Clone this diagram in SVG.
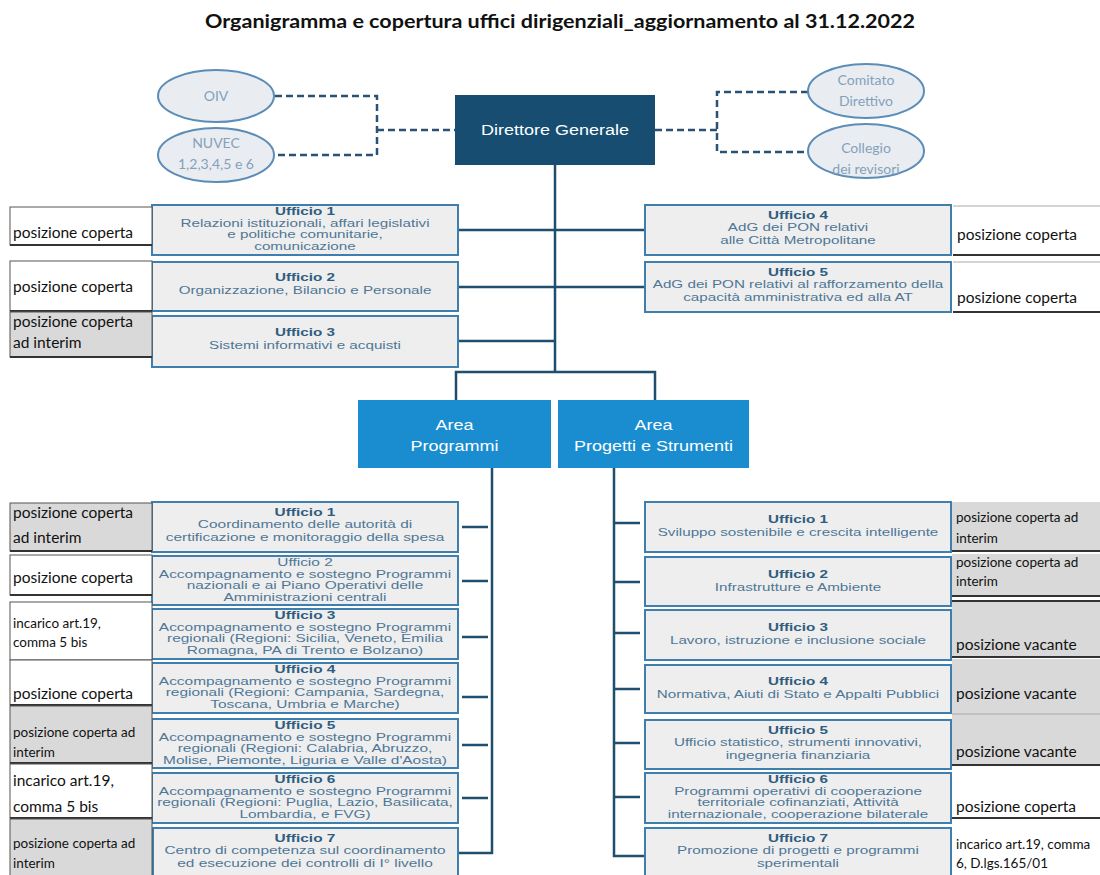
<svg xmlns="http://www.w3.org/2000/svg" width="1100" height="875" viewBox="0 0 1100 875">
<style>
.title{font-family:Lato,"Liberation Sans",sans-serif;font-weight:bold;font-size:18px;fill:#111}
.ell{fill:#e9edf1;stroke:#5b8db8;stroke-width:2}
.et{font-family:Lato,"Liberation Sans",sans-serif;font-size:14px;fill:#84a1bc;text-anchor:middle}
.dg{fill:#164d70}
.area{fill:#1a8dd0}
.wt{font-family:"Liberation Sans",Arial,sans-serif;font-size:15px;fill:#ffffff;text-anchor:middle}
.ub{fill:#eeeeee;stroke:#3f7fae;stroke-width:2}
.ut{font-family:"Liberation Sans",Arial,sans-serif;font-size:10.5px;fill:#4f7796;text-anchor:middle}
.uh{font-weight:bold;fill:#2f5d80}
.lb{stroke:#555;stroke-width:1}
.white{fill:#ffffff}
.grey{fill:#d9d9d9}
.bl{stroke:#333;stroke-width:2}
.tl{stroke:#aaa;stroke-width:1}
.lt{font-family:Lato,"Liberation Sans",sans-serif;font-size:15.5px;fill:#111}
.ls{font-size:13.5px}
.con{stroke:#1f4e6e;stroke-width:2.5;fill:none}
.dash{stroke:#2a5275;stroke-width:2.5;fill:none;stroke-dasharray:7,4}
</style>
<rect width="1100" height="875" fill="#ffffff"/>
<text class="title" x="560" y="28" text-anchor="middle" textLength="710" lengthAdjust="spacingAndGlyphs">Organigramma e copertura uffici dirigenziali_aggiornamento al 31.12.2022</text>

<g id="connectors">
<path class="dash" d="M275,96 H377 V155 H275 M377,130 H455"/>
<path class="dash" d="M808,92 H717 V152 H808 M717,130 H655"/>
<path class="con" d="M555,165 V372 M458,230 H555 M458,287 H555 M458,341 H555 M555,230 H645 M555,287 H645"/>
<path class="con" d="M456,400 V372 H655 V400"/>
<path class="con" d="M492,468 V853 H458"/>
<path class="con" d="M462,527 H488 M462,581 H488 M462,637 H488 M462,697 H488 M462,745 H488 M462,798 H488"/>
<path class="con" d="M614,468 V856 H645"/>
<path class="con" d="M614,523 H640 M614,582 H640 M614,633 H640 M614,689 H640 M614,743 H640 M614,797 H640"/>
</g>

<g id="oiv"><ellipse class="ell" cx="216" cy="96" rx="58" ry="26"/><text class="et" x="216" y="101">OIV</text></g>
<g id="nuvec"><ellipse class="ell" cx="216" cy="155" rx="58" ry="27"/><text class="et" x="216" y="148">NUVEC</text><text class="et" x="216" y="169">1,2,3,4,5 e 6</text></g>
<g id="comitato"><ellipse class="ell" cx="866" cy="91" rx="58" ry="27"/><text class="et" x="866" y="85">Comitato</text><text class="et" x="866" y="106">Direttivo</text></g>
<g id="collegio"><ellipse class="ell" cx="866" cy="151" rx="58" ry="27"/><text class="et" x="866" y="153">Collegio</text><text class="et" x="866" y="174">dei revisori</text></g>

<g id="dg"><rect class="dg" x="455" y="95" width="200" height="70"/><g transform="translate(555,0) scale(1.2,1)"><text class="wt" x="0" y="135">Direttore  Generale</text></g></g>

<g id="area-programmi"><rect class="area" x="358" y="400" width="193" height="68"/><g transform="translate(454.5,0) scale(1.2,1)"><text class="wt" x="0" y="430">Area</text><text class="wt" x="0" y="451">Programmi</text></g></g>
<g id="area-progetti"><rect class="area" x="558" y="400" width="191" height="68"/><g transform="translate(653.5,0) scale(1.2,1)"><text class="wt" x="0" y="430">Area</text><text class="wt" x="0" y="451">Progetti e Strumenti</text></g></g>

<!-- top left uffici -->
<g id="u1-top"><rect class="ub" x="152" y="205" width="306" height="50"/><g transform="translate(305,0) scale(1.45,1)"><text class="ut uh" x="0" y="215">Ufficio 1</text><text class="ut" x="0" y="226.7">Relazioni istituzionali, affari legislativi</text><text class="ut" x="0" y="238.4">e politiche comunitarie,</text><text class="ut" x="0" y="250.1">comunicazione</text></g></g>
<g id="u2-top"><rect class="ub" x="152" y="262" width="306" height="49"/><g transform="translate(305,0) scale(1.45,1)"><text class="ut uh" x="0" y="281">Ufficio 2</text><text class="ut" x="0" y="294">Organizzazione, Bilancio e Personale</text></g></g>
<g id="u3-top"><rect class="ub" x="152" y="316" width="306" height="51"/><g transform="translate(305,0) scale(1.45,1)"><text class="ut uh" x="0" y="336">Ufficio 3</text><text class="ut" x="0" y="349">Sistemi informativi e acquisti</text></g></g>

<!-- top right uffici -->
<g id="u4-top"><rect class="ub" x="645" y="205" width="306" height="50"/><g transform="translate(798,0) scale(1.45,1)"><text class="ut uh" x="0" y="219">Ufficio 4</text><text class="ut" x="0" y="231.5">AdG dei PON relativi</text><text class="ut" x="0" y="244">alle Città Metropolitane</text></g></g>
<g id="u5-top"><rect class="ub" x="645" y="262" width="306" height="50"/><g transform="translate(798,0) scale(1.45,1)"><text class="ut uh" x="0" y="276">Ufficio 5</text><text class="ut" x="0" y="288.5">AdG dei PON relativi al rafforzamento della</text><text class="ut" x="0" y="301">capacità amministrativa ed alla AT</text></g></g>

<!-- top labels -->
<g id="lab-u1-top"><rect class="lb white" x="10" y="207" width="142" height="38"/><line class="bl" x1="10" y1="245" x2="152" y2="245"/><text class="lt" x="13" y="238">posizione coperta</text></g>
<g id="lab-u2-top"><rect class="lb white" x="10" y="261" width="142" height="50"/><line class="bl" x1="10" y1="311" x2="152" y2="311"/><text class="lt" x="13" y="292">posizione coperta</text></g>
<g id="lab-u3-top"><rect class="lb grey" x="10" y="312" width="142" height="45"/><line class="bl" x1="10" y1="357" x2="152" y2="357"/><text class="lt" x="13" y="327">posizione coperta</text><text class="lt" x="13" y="348">ad interim</text></g>
<g id="lab-u4-top"><line class="tl" x1="953" y1="206" x2="1100" y2="206"/><line class="bl" x1="953" y1="255" x2="1100" y2="255"/><text class="lt" x="957" y="240">posizione coperta</text></g>
<g id="lab-u5-top"><line class="tl" x1="953" y1="262" x2="1100" y2="262"/><line class="bl" x1="953" y1="312" x2="1100" y2="312"/><text class="lt" x="957" y="303">posizione coperta</text></g>

<!-- Area Programmi uffici -->
<g id="ap-u1"><rect class="ub" x="152" y="502" width="306" height="50"/><g transform="translate(305,0) scale(1.47,1)"><text class="ut uh" x="0" y="516">Ufficio  1</text><text class="ut" x="0" y="528.5">Coordinamento  delle autorità di</text><text class="ut" x="0" y="541">certificazione e monitoraggio della spesa</text></g></g>
<g id="ap-u2"><rect class="ub" x="152" y="556" width="306" height="49"/><g transform="translate(305,0) scale(1.47,1)"><text class="ut" x="0" y="566">Ufficio  2</text><text class="ut" x="0" y="577.7">Accompagnamento e sostegno Programmi</text><text class="ut" x="0" y="589.4">nazionali e ai Piano Operativi  delle</text><text class="ut" x="0" y="601.1">Amministrazioni centrali</text></g></g>
<g id="ap-u3"><rect class="ub" x="152" y="609" width="306" height="50"/><g transform="translate(305,0) scale(1.47,1)"><text class="ut uh" x="0" y="619">Ufficio  3</text><text class="ut" x="0" y="630.7">Accompagnamento e sostegno Programmi</text><text class="ut" x="0" y="642.4">regionali (Regioni: Sicilia, Veneto, Emilia</text><text class="ut" x="0" y="654.1">Romagna, PA di Trento  e Bolzano)</text></g></g>
<g id="ap-u4"><rect class="ub" x="152" y="663" width="306" height="50"/><g transform="translate(305,0) scale(1.47,1)"><text class="ut uh" x="0" y="673">Ufficio  4</text><text class="ut" x="0" y="684.7">Accompagnamento e sostegno Programmi</text><text class="ut" x="0" y="696.4">regionali (Regioni: Campania, Sardegna,</text><text class="ut" x="0" y="708.1">Toscana, Umbria e Marche)</text></g></g>
<g id="ap-u5"><rect class="ub" x="152" y="719" width="306" height="49"/><g transform="translate(305,0) scale(1.47,1)"><text class="ut uh" x="0" y="729">Ufficio  5</text><text class="ut" x="0" y="740.7">Accompagnamento e sostegno Programmi</text><text class="ut" x="0" y="752.4">regionali (Regioni: Calabria, Abruzzo,</text><text class="ut" x="0" y="764.1">Molise, Piemonte, Liguria e Valle d'Aosta)</text></g></g>
<g id="ap-u6"><rect class="ub" x="152" y="773" width="306" height="50"/><g transform="translate(305,0) scale(1.47,1)"><text class="ut uh" x="0" y="783">Ufficio  6</text><text class="ut" x="0" y="794.7">Accompagnamento e sostegno Programmi</text><text class="ut" x="0" y="806.4">regionali (Regioni: Puglia, Lazio, Basilicata,</text><text class="ut" x="0" y="818.1">Lombardia, e FVG)</text></g></g>
<g id="ap-u7"><rect class="ub" x="153" y="828" width="305" height="50"/><g transform="translate(305,0) scale(1.47,1)"><text class="ut uh" x="0" y="842">Ufficio  7</text><text class="ut" x="0" y="854.5">Centro di competenza sul coordinamento</text><text class="ut" x="0" y="867">ed esecuzione dei controlli di I° livello</text></g></g>

<!-- Area Progetti uffici -->
<g id="aps-u1"><rect class="ub" x="645" y="502" width="306" height="50"/><g transform="translate(798,0) scale(1.45,1)"><text class="ut uh" x="0" y="523">Ufficio 1</text><text class="ut" x="0" y="536">Sviluppo  sostenibile e crescita intelligente</text></g></g>
<g id="aps-u2"><rect class="ub" x="645" y="557" width="306" height="49"/><g transform="translate(798,0) scale(1.45,1)"><text class="ut uh" x="0" y="578">Ufficio 2</text><text class="ut" x="0" y="591">Infrastrutture e Ambiente</text></g></g>
<g id="aps-u3"><rect class="ub" x="645" y="610" width="306" height="50"/><g transform="translate(798,0) scale(1.45,1)"><text class="ut uh" x="0" y="631">Ufficio 3</text><text class="ut" x="0" y="644">Lavoro,  istruzione e inclusione sociale</text></g></g>
<g id="aps-u4"><rect class="ub" x="645" y="665" width="306" height="48"/><g transform="translate(798,0) scale(1.45,1)"><text class="ut uh" x="0" y="685">Ufficio 4</text><text class="ut" x="0" y="698">Normativa, Aiuti di Stato e Appalti Pubblici</text></g></g>
<g id="aps-u5"><rect class="ub" x="645" y="720" width="306" height="49"/><g transform="translate(798,0) scale(1.45,1)"><text class="ut uh" x="0" y="734">Ufficio 5</text><text class="ut" x="0" y="746.5">Ufficio statistico, strumenti innovativi,</text><text class="ut" x="0" y="759">ingegneria finanziaria</text></g></g>
<g id="aps-u6"><rect class="ub" x="645" y="773" width="306" height="50"/><g transform="translate(798,0) scale(1.45,1)"><text class="ut uh" x="0" y="783">Ufficio 6</text><text class="ut" x="0" y="794.7">Programmi operativi di cooperazione</text><text class="ut" x="0" y="806.4">territoriale cofinanziati, Attività</text><text class="ut" x="0" y="818.1">internazionale, cooperazione bilaterale</text></g></g>
<g id="aps-u7"><rect class="ub" x="645" y="828" width="306" height="50"/><g transform="translate(798,0) scale(1.45,1)"><text class="ut uh" x="0" y="842">Ufficio 7</text><text class="ut" x="0" y="854.5">Promozione di progetti e programmi</text><text class="ut" x="0" y="867">sperimentali</text></g></g>

<!-- bottom left labels -->
<g id="lab-ap-u1"><rect class="lb grey" x="10" y="503" width="142" height="48"/><line class="bl" x1="10" y1="551" x2="152" y2="551"/><text class="lt" x="13" y="518">posizione coperta</text><text class="lt" x="13" y="543">ad interim</text></g>
<g id="lab-ap-u2"><rect class="lb white" x="10" y="555" width="142" height="40"/><line class="bl" x1="10" y1="595" x2="152" y2="595"/><text class="lt" x="13" y="583">posizione coperta</text></g>
<g id="lab-ap-u3"><rect class="lb white" x="10" y="602" width="142" height="58"/><text class="lt ls" x="13" y="628"> incarico art.19,</text><text class="lt ls" x="13" y="647">comma 5 bis</text></g>
<g id="lab-ap-u4"><rect class="lb white" x="10" y="660" width="142" height="45"/><line class="bl" x1="10" y1="705" x2="152" y2="705"/><text class="lt" x="13" y="699">posizione coperta</text></g>
<g id="lab-ap-u5"><rect class="lb grey" x="10" y="706" width="142" height="57"/><line class="bl" x1="10" y1="763" x2="152" y2="763"/><text class="lt ls" x="13" y="737">posizione coperta ad</text><text class="lt ls" x="13" y="757">interim</text></g>
<g id="lab-ap-u6"><rect class="lb white" x="10" y="764" width="142" height="54"/><line class="bl" x1="10" y1="818" x2="152" y2="818"/><text class="lt" x="13" y="786">incarico art.19,</text><text class="lt" x="13" y="812">comma 5 bis</text></g>
<g id="lab-ap-u7"><rect class="lb grey" x="10" y="819" width="142" height="60"/><text class="lt ls" x="13" y="848">posizione coperta ad</text><text class="lt ls" x="13" y="868">interim</text></g>

<!-- bottom right labels -->
<g id="lab-aps-u1"><rect class="grey" x="952" y="502" width="148" height="49"/><line class="bl" x1="952" y1="551" x2="1100" y2="551"/><text class="lt ls" x="956" y="522">posizione coperta ad</text><text class="lt ls" x="956" y="543">interim</text></g>
<g id="lab-aps-u2"><rect class="grey" x="952" y="554" width="148" height="42"/><line class="bl" x1="952" y1="596" x2="1100" y2="596"/><text class="lt ls" x="956" y="567">posizione coperta ad</text><text class="lt ls" x="956" y="586">interim</text></g>
<g id="lab-aps-u3"><rect class="grey" x="952" y="601" width="148" height="56"/><line class="bl" x1="952" y1="601" x2="1100" y2="601"/><line class="bl" x1="952" y1="657" x2="1100" y2="657"/><text class="lt" x="956" y="650">posizione vacante</text></g>
<g id="lab-aps-u4"><rect class="grey" x="952" y="659" width="148" height="55"/><text class="lt" x="956" y="699">posizione vacante</text></g>
<g id="lab-aps-u5"><rect class="grey" x="952" y="714" width="148" height="51"/><line class="tl" x1="952" y1="714" x2="1100" y2="714"/><line class="bl" x1="952" y1="765" x2="1100" y2="765"/><text class="lt" x="956" y="757">posizione vacante</text></g>
<g id="lab-aps-u6"><line class="bl" x1="952" y1="818" x2="1100" y2="818"/><text class="lt" x="956" y="812">posizione coperta</text></g>
<g id="lab-aps-u7"><text class="lt ls" x="956" y="849">incarico art.19, comma</text><text class="lt ls" x="956" y="868">6, D.lgs.165/01</text></g>
</svg>
